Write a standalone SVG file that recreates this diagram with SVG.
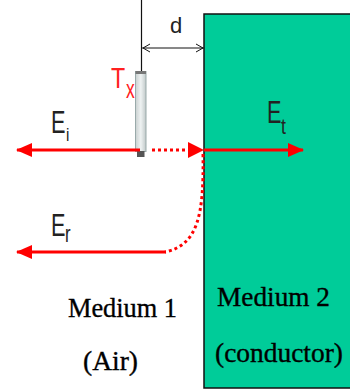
<svg xmlns="http://www.w3.org/2000/svg" width="350" height="390" viewBox="0 0 350 390">
<style>
.lbl{font-family:"Liberation Sans",Arial,sans-serif;fill:#222;}
.med{font-family:"Liberation Serif","Times New Roman",serif;font-size:27px;fill:#000;stroke:#000;stroke-width:0.35;}
.red{stroke:#ff0000;stroke-width:3;fill:none;}
.dot{stroke:#ff0000;stroke-width:3;fill:none;stroke-dasharray:3 3;}
.dim{stroke:#111;stroke-width:1;fill:none;}
</style>
<defs>
<linearGradient id="ant" x1="0" y1="0" x2="1" y2="0">
<stop offset="0" stop-color="#c9d0d0"/>
<stop offset="0.5" stop-color="#eef2f2"/>
<stop offset="1" stop-color="#c0c8c8"/>
</linearGradient>
<marker id="ah" markerUnits="userSpaceOnUse" markerWidth="16" markerHeight="16" refX="15" refY="8" orient="auto">
<path d="M0,1 L16,8 L0,15 Z" fill="#ff0000"/>
</marker>
</defs>
<rect width="350" height="390" fill="#fff"/>
<g id="medium2">
<rect x="204" y="14" width="150" height="374" fill="#00cc99" stroke="#111" stroke-width="1.5"/>
<text class="med" x="217" y="306" textLength="113" lengthAdjust="spacingAndGlyphs">Medium 2</text>
<text class="med" x="215" y="362" textLength="128" lengthAdjust="spacingAndGlyphs">(conductor)</text>
</g>
<g id="medium1">
<text class="med" x="68" y="317" textLength="109" lengthAdjust="spacingAndGlyphs">Medium 1</text>
<text class="med" x="83" y="370" textLength="55" lengthAdjust="spacingAndGlyphs">(Air)</text>
</g>
<g id="antenna">
<line x1="141.5" y1="0" x2="141.5" y2="72" stroke="#111" stroke-width="1.2"/>
<rect x="135.5" y="71.5" width="10.5" height="80" fill="url(#ant)" stroke="#9aa" stroke-width="1"/>
<rect x="135.5" y="71" width="10.5" height="3" fill="#777"/>
<rect x="137" y="151" width="7.5" height="6" fill="#555"/>
<text x="0" y="0" transform="translate(111,88) scale(0.8,1)" style="font-family:'Liberation Sans',Arial,sans-serif;font-size:29px;fill:#ff2020;">T</text>
<text x="0" y="0" transform="translate(126,98) scale(0.7,1)" style="font-family:'Liberation Sans',Arial,sans-serif;font-size:25px;fill:#ff2020;">x</text>
</g>
<g id="dimension">
<line class="dim" x1="142" y1="48" x2="204" y2="48"/>
<path class="dim" d="M150,44 L143,48 L150,52"/>
<path class="dim" d="M196,44 L203,48 L196,52"/>
<text class="lbl" x="170" y="33" style="font-size:22px;">d</text>
</g>
<g id="connectors">
<line class="red" x1="140" y1="150" x2="17" y2="150" marker-end="url(#ah)"/>
<line class="dot" x1="152" y1="150" x2="188" y2="150"/>
<path d="M188,142 L204,150 L188,158 Z" fill="#ff0000"/>
<line class="red" x1="204" y1="150" x2="303" y2="150" marker-end="url(#ah)"/>
<path class="dot" d="M203,154 C204,215 198,245 165,252"/>
<line class="red" x1="166" y1="252" x2="17" y2="252" marker-end="url(#ah)"/>
</g>
<g id="labels">
<text class="lbl" transform="translate(51,133) scale(0.7,1)" style="font-size:31px;">E</text>
<text class="lbl" transform="translate(66,141) scale(0.8,1)" style="font-size:19px;">i</text>
<text class="lbl" transform="translate(267,123) scale(0.7,1)" style="font-size:31px;">E</text>
<text class="lbl" transform="translate(281,134) scale(0.8,1)" style="font-size:22px;">t</text>
<text class="lbl" transform="translate(51,236) scale(0.7,1)" style="font-size:31px;">E</text>
<text class="lbl" transform="translate(65,242) scale(0.7,1)" style="font-size:24px;">r</text>
</g>
</svg>
